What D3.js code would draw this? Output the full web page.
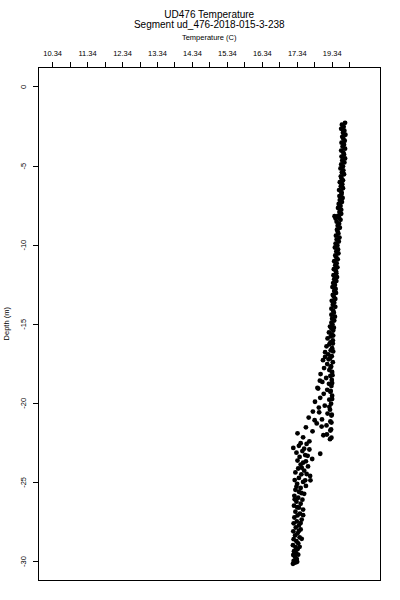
<!DOCTYPE html>
<html>
<head>
<meta charset="utf-8">
<script src="https://cdn.jsdelivr.net/npm/d3@7"></script>
<style>
  body { margin: 0; background: #fff; }
  svg { font-family: "Liberation Sans", Arial, sans-serif; }
  .axis text { font-size: 7.5px; fill: #000; }
  .axis line { stroke: #000; }
  .axis path { display: none; }
  .title { font-size: 10px; }
  .label { font-size: 7.5px; }
</style>
</head>
<body>
<script>
// UD476 temperature profile, one segment, depth vs temperature

// ----- Data -----

// upper part of the cast, warm and tight
var upperDepth = [
  -2.30, -2.42, -2.55, -2.68, -2.80, -2.93, -3.05, -3.18, -3.30, -3.43,
  -3.55, -3.68, -3.80, -3.93, -4.05, -4.18, -4.30, -4.43, -4.55, -4.68,
  -4.80, -4.93, -5.05, -5.18, -5.30, -5.43, -5.55, -5.68, -5.80, -5.93,
  -6.05, -6.18, -6.30, -6.43, -6.55, -6.68, -6.80, -6.93, -7.05, -7.18,
  -7.30, -7.43, -7.55, -7.68, -7.80, -7.93, -8.05, -8.18, -8.30, -8.43,
  -8.55, -8.68, -8.80, -8.93, -9.05, -9.18, -9.30, -9.43, -9.55, -9.68,
  -9.80, -9.93, -10.05, -10.18, -10.30, -10.43, -10.55, -10.68, -10.80, -10.93,
  -11.05, -11.18, -11.30, -11.43, -11.55, -11.68, -11.80, -11.93, -12.05, -12.18,
  -12.30, -12.43, -12.55, -12.68, -12.80, -12.93, -13.05, -13.18, -13.30, -13.43,
  -13.55, -13.68, -13.80, -13.93, -14.05, -14.18, -14.30, -14.43, -14.55, -14.68,
  -14.80, -14.93, -8.20, -8.35
];
var upperTemp = [
  18.72, 18.63, 18.68, 18.61, 18.70, 18.66, 18.73, 18.64, 18.67, 18.71,
  18.62, 18.69, 18.65, 18.72, 18.61, 18.67, 18.69, 18.62, 18.72, 18.64,
  18.70, 18.61, 18.66, 18.59, 18.67, 18.63, 18.69, 18.60, 18.62, 18.66,
  18.57, 18.64, 18.60, 18.66, 18.55, 18.62, 18.62, 18.56, 18.65, 18.57,
  18.63, 18.54, 18.59, 18.52, 18.61, 18.56, 18.61, 18.52, 18.55, 18.59,
  18.48, 18.55, 18.51, 18.57, 18.49, 18.51, 18.53, 18.46, 18.56, 18.48,
  18.54, 18.45, 18.50, 18.43, 18.52, 18.47, 18.53, 18.44, 18.47, 18.51,
  18.41, 18.48, 18.44, 18.50, 18.40, 18.46, 18.47, 18.39, 18.49, 18.41,
  18.47, 18.38, 18.43, 18.36, 18.45, 18.41, 18.46, 18.37, 18.40, 18.44,
  18.34, 18.41, 18.37, 18.44, 18.33, 18.38, 18.40, 18.33, 18.43, 18.35,
  18.41, 18.33, 18.42, 18.45
];

// middle part, spreading out to the left
var midDepth = [
  -15.05, -15.18, -15.30, -15.43, -15.55, -15.68, -15.80, -15.93, -16.05, -16.18,
  -16.30, -16.43, -16.55, -16.68, -16.80, -16.93, -17.05, -17.18, -17.30, -17.43,
  -17.55, -17.68, -17.80, -17.93, -18.05, -18.18, -18.30, -18.43, -18.55, -18.68,
  -18.80, -18.93, -19.05, -19.18, -19.30, -19.43, -19.55, -19.68, -19.80, -19.93,
  -20.05, -20.18, -20.30, -20.43, -20.55, -20.68, -20.80, -20.93, -21.05, -21.18,
  -21.30, -21.43, -21.55, -21.68, -21.80, -21.93, -22.05, -22.18, -22.30, -22.43,
  -22.55,
  -15.25, -15.75, -16.25, -16.75, -17.25, -17.75, -18.25, -18.75, -19.25, -19.75,
  -20.25, -20.75, -21.25, -21.75, -22.20, -19.10, -20.60, -21.10, -21.50, -22.00,
  -18.60, -17.10
];
var midTemp = [
  18.36, 18.29, 18.33, 18.38, 18.26, 18.34, 18.31, 18.22, 18.37, 18.30,
  18.27, 18.19, 18.35, 18.31, 18.15, 18.24, 18.34, 18.29, 18.09, 18.37,
  18.21, 18.32, 18.12, 18.27, 18.35, 18.02, 18.30, 18.18, 18.34, 18.07,
  18.26, 18.33, 17.93, 18.21, 18.30, 18.11, 18.35, 18.01, 18.27, 17.86,
  18.32, 18.14, 17.97, 18.29, 17.80, 18.22, 18.33, 17.68, 18.06, 18.30,
  17.91, 18.19, 17.60, 18.32, 17.79, 17.36, 18.10, 17.52, 18.29, 17.70,
  17.45,
  18.40, 18.38, 18.37, 18.38, 18.25, 18.31, 18.36, 18.35, 18.31, 18.35,
  18.27, 18.34, 18.33, 18.30, 18.33, 17.95, 17.98, 17.85, 18.05, 18.20,
  18.00, 18.15
];

// bottom part, cooler
var lowerDepth = [
  -22.60, -22.72, -22.85, -22.95, -23.05, -23.15, -23.22, -23.30, -23.42, -23.55,
  -23.65, -23.78, -23.90, -24.02, -24.15, -24.28, -24.40, -24.52, -24.62, -24.75,
  -24.88, -25.00, -25.12, -25.25, -25.38, -25.50, -25.62, -25.75, -25.88, -26.00,
  -26.12, -26.25, -26.38, -26.50, -26.62, -26.75, -26.88, -27.00, -27.12, -27.25,
  -27.38, -27.50, -27.62, -27.75, -27.88, -28.00, -28.12, -28.25, -28.38, -28.50,
  -28.62, -28.75, -28.88, -29.00, -29.12, -29.25, -29.38, -29.50, -29.62, -29.75,
  -29.88, -30.00, -30.10, -30.18,
  -22.90, -23.35, -23.70, -24.10, -24.50, -24.90, -25.30, -25.70, -26.10, -26.60,
  -27.10, -27.60, -28.10, -28.60, -29.10, -29.60, -30.05, -24.90
];
var lowerTemp = [
  17.62, 17.40, 17.24, 17.70, 17.50, 17.33, 18.01, 17.58, 17.42, 17.78,
  17.36, 17.52, 17.45, 17.66, 17.38, 17.55, 17.30, 17.47, 17.72, 17.40,
  17.28, 17.52, 17.35, 17.60, 17.45, 17.30, 17.40, 17.55, 17.27, 17.38,
  17.50, 17.33, 17.45, 17.26, 17.40, 17.52, 17.30, 17.43, 17.36, 17.27,
  17.48, 17.34, 17.25, 17.40, 17.31, 17.45, 17.24, 17.36, 17.29, 17.42,
  17.25, 17.33, 17.38, 17.23, 17.30, 17.36, 17.26, 17.32, 17.24, 17.29,
  17.34, 17.25, 17.30, 17.23,
  17.55, 17.65, 17.60, 17.48, 17.62, 17.58, 17.33, 17.47, 17.28, 17.35,
  17.52, 17.45, 17.40, 17.48, 17.42, 17.38, 17.35, 17.73
];

// axis ticks (top axis has a tick every 0.5 C, only some are labelled)
var xTicks = [10.34, 10.84, 11.34, 11.84, 12.34, 12.84, 13.34, 13.84, 14.34,
  14.84, 15.34, 15.84, 16.34, 16.84, 17.34, 17.84, 18.34, 18.84];
var xTickLabels = ["10.34", "", "11.34", "", "12.34", "", "13.34", "", "14.34",
  "", "15.34", "", "16.34", "", "17.34", "", "19.34", ""];
var yTicks = [0, -5, -10, -15, -20, -25, -30];

// plot limits
var xLimits = [9.95, 19.72];
var yLimits = [1.2, -31.2];

// ----- Page dimensions -----
var margin = { top: 67.5, right: 20, bottom: 20, left: 38.5 },
  width = 380 - margin.left,
  height = 580 - margin.top;

var x = d3.scaleLinear().domain(xLimits).range([0, width]);
var y = d3.scaleLinear().domain(yLimits).range([0, height]);

var svg = d3.select("body")
  .append("svg")
  .attr("width", 400)
  .attr("height", 600);

var chart = svg.append("g")
  .attr("transform", "translate(" + margin.left + "," + margin.top + ")");

// put the sections together
var data = [];
function addSection(depths, temps) {
  for (var i = 0; i < depths.length; i++) {
    data.push({ depth: depths[i], temp: temps[i] });
  }
}
addSection(upperDepth, upperTemp);
addSection(midDepth, midTemp);
addSection(lowerDepth, lowerTemp);

// ----- Axes -----
var xAxis = d3.axisTop(x)
  .tickValues(xTicks)
  .tickFormat(function(d, i) { return xTickLabels[i]; })
  .tickSize(6)
  .tickPadding(5.5);

chart.append("g")
  .attr("class", "x axis")
  .call(xAxis)
  .selectAll("line")
  .attr("shape-rendering", "crispEdges");

var yAxis = d3.axisLeft(y)
  .tickValues(yTicks)
  .tickFormat(function(d) { return d === 0 ? "0" : "-" + Math.abs(d); })
  .tickSize(6);

var yg = chart.append("g")
  .attr("class", "y axis")
  .call(yAxis);

yg.selectAll("line").attr("shape-rendering", "crispEdges");

// R style vertical tick labels
yg.selectAll(".tick text")
  .attr("x", null)
  .attr("dy", null)
  .attr("text-anchor", "middle")
  .attr("transform", "translate(-13,0) rotate(-90)");

// ----- Points -----
chart.selectAll(".dot")
  .data(data)
  .enter().append("circle")
  .attr("class", "dot")
  .attr("cx", function(d) { return x(d.temp); })
  .attr("cy", function(d) { return y(d.depth); })
  .attr("r", 2.4)
  .attr("fill", "#000");

// box round the plot
chart.append("rect")
  .attr("x", 0)
  .attr("y", 0)
  .attr("width", width)
  .attr("height", height)
  .attr("fill", "none")
  .attr("stroke", "#000")
  .attr("shape-rendering", "crispEdges");

// ----- Titles -----
var cx = margin.left + width / 2;

svg.append("text")
  .attr("class", "title")
  .attr("x", cx)
  .attr("y", 18)
  .attr("text-anchor", "middle")
  .text("UD476 Temperature");

svg.append("text")
  .attr("class", "title")
  .attr("x", cx)
  .attr("y", 28)
  .attr("text-anchor", "middle")
  .text("Segment ud_476-2018-015-3-238");

svg.append("text")
  .attr("class", "label")
  .attr("x", cx)
  .attr("y", 40)
  .attr("text-anchor", "middle")
  .text("Temperature (C)");

svg.append("text")
  .attr("class", "label")
  .attr("text-anchor", "middle")
  .attr("transform", "translate(8.5," + (margin.top + height / 2) + ") rotate(-90)")
  .text("Depth (m)");
</script>
</body>
</html>
